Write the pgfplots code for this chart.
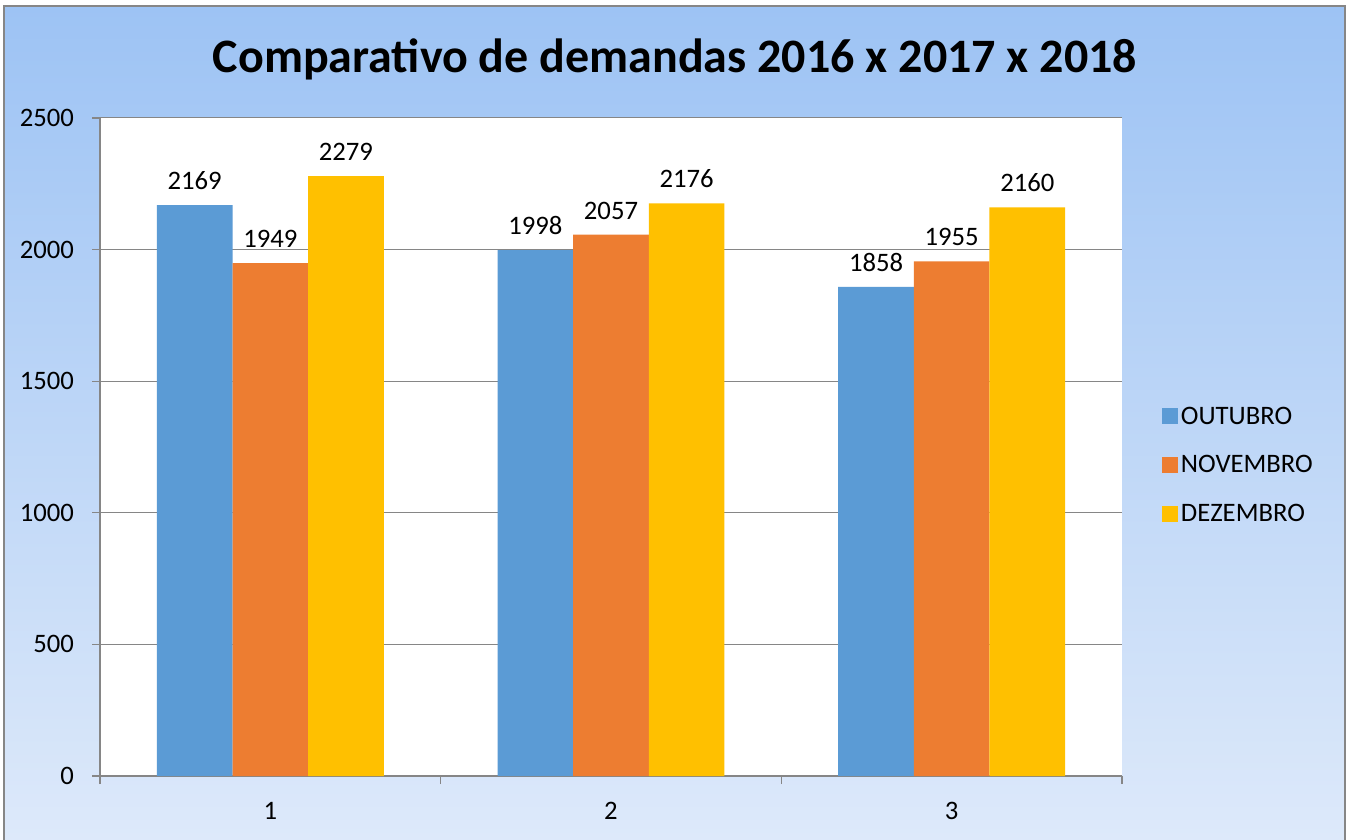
\documentclass[border=0pt]{standalone}
\usepackage{fontspec}
\setmainfont{Carlito}
\usepackage{pgfplots}
\pgfplotsset{compat=1.18}
\definecolor{cblue}{HTML}{5B9BD5}
\definecolor{corange}{HTML}{ED7D31}
\definecolor{cyellow}{HTML}{FFC000}
\definecolor{bgtop}{RGB}{157,195,244}
\definecolor{bgbot}{RGB}{221,233,250}
\definecolor{axgray}{RGB}{134,134,134}
\begin{document}
\begin{tikzpicture}
\useasboundingbox (0,0) rectangle (1013.25pt,629.25pt);
\fill[white] (0,0) rectangle (1013.25pt,629.25pt);
\shade[top color=bgtop, bottom color=bgbot] (3pt,0pt) rectangle (1008.75pt,624.75pt);
\draw[axgray, line width=1pt] (3pt,-1pt) -- (3pt,624.75pt) -- (1008.75pt,624.75pt) -- (1008.75pt,-1pt);
\begin{axis}[
  scale only axis, width=766.5pt, height=493.5pt,
  at={(75pt,47.25pt)}, anchor=south west,
  xmin=0.5, xmax=3.5, ymin=0, ymax=2500,
  ybar=0pt, bar width=0.222,
  axis x line*=bottom, axis y line*=left,
  axis line style={draw=axgray, line width=1pt, -},
  axis background/.style={fill=white},
  ytick={0,500,...,2500}, ymajorgrids,
  grid style={draw=axgray, line width=0.75pt},
  xtick={0.5,1.5,2.5,3.5}, xticklabels={},
  extra x ticks={1,2,3}, extra x tick labels={1,2,3},
  extra x tick style={major tick length=0pt, grid=none},
  tick align=outside, major tick length=6pt,
  tick style={draw=axgray, line width=1pt},
  /pgf/number format/assume math mode=true,
  /pgf/number format/1000 sep={},
  ticklabel style={font=\fontsize{20}{24}\selectfont, text=black},
  yticklabel style={xshift=-10pt},
  xticklabel style={yshift=-16pt},
  nodes near coords,
  nodes near coords style={font=\fontsize{20}{24}\selectfont, text=black, yshift=8pt},
  legend style={draw=none, fill=none, at={(axis description cs:1,0.4726)}, anchor=west, xshift=27pt,
    font=\fontsize{20}{24}\selectfont, row sep=18pt},
  legend cell align=left,
  legend image code/.code={\fill[#1] (0pt,-6pt) rectangle (12pt,6pt);},
]
\addplot[fill=cblue, draw=none] coordinates {(1,2169) (2,1998) (3,1858)};
\addplot[fill=corange, draw=none] coordinates {(1,1949) (2,2057) (3,1955)};
\addplot[fill=cyellow, draw=none] coordinates {(1,2279) (2,2176) (3,2160)};
\legend{OUTUBRO,NOVEMBRO,DEZEMBRO}
\end{axis}
\node[font=\bfseries\fontsize{36}{42}\selectfont] at (506.25pt,585pt) {Comparativo de demandas 2016 x 2017 x 2018};
\end{tikzpicture}
\end{document}
